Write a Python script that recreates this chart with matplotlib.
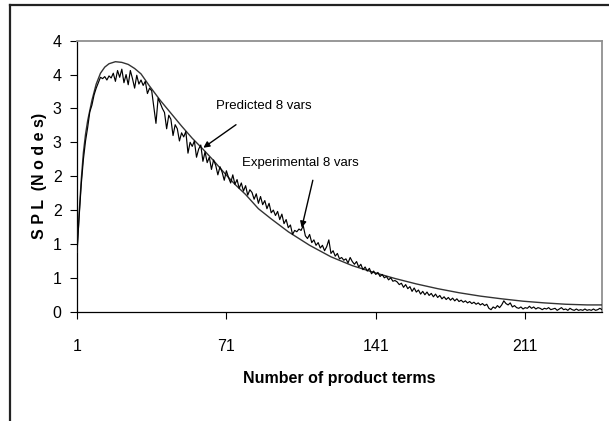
import numpy as np
import matplotlib
matplotlib.use("Agg")
import matplotlib.pyplot as plt
from matplotlib import font_manager
from matplotlib.lines import Line2D

# ---------------------------------------------------------------------------
# Data
# ---------------------------------------------------------------------------

pred_x = [1, 2, 3, 4, 5, 6, 8, 10, 12, 14, 16, 19, 22, 25, 28, 31, 35, 40, 45,
          50, 55, 60, 65, 70, 75, 80, 86, 92, 100, 110, 120, 130, 140, 150,
          160, 170, 180, 190, 200, 210, 220, 230, 240, 247]
pred_y = [0.88, 1.45, 1.95, 2.35, 2.62, 2.82, 3.12, 3.36, 3.52, 3.61, 3.66,
          3.69, 3.68, 3.65, 3.59, 3.51, 3.33, 3.12, 2.93, 2.74, 2.56, 2.40,
          2.23, 2.05, 1.88, 1.73, 1.52, 1.37, 1.18, 0.98, 0.81, 0.68, 0.58,
          0.49, 0.41, 0.34, 0.28, 0.23, 0.19, 0.155, 0.13, 0.11, 0.10, 0.10]

exp_y = [
    0.88, 1.40, 1.88, 2.25, 2.52, 2.72, 2.95, 3.05, 3.20, 3.30,
    3.38, 3.46, 3.44, 3.47, 3.42, 3.48, 3.45, 3.52, 3.40, 3.56,
    3.46, 3.58, 3.38, 3.50, 3.35, 3.56, 3.44, 3.30, 3.49, 3.36,
    3.42, 3.34, 3.40, 3.22, 3.30, 3.26, 3.02, 2.78, 3.15, 3.08,
    3.00, 2.94, 2.70, 2.90, 2.84, 2.60, 2.76, 2.70, 2.52, 2.64,
    2.58, 2.66, 2.34, 2.50, 2.44, 2.52, 2.28, 2.40, 2.46, 2.22,
    2.36, 2.20, 2.28, 2.10, 2.24, 2.16, 2.02, 2.14, 2.06, 1.94,
    2.08, 1.98, 1.90, 2.02, 1.88, 1.95, 1.82, 1.90, 1.78, 1.86,
    1.72, 1.80, 1.76, 1.66, 1.74, 1.60, 1.70, 1.58, 1.64, 1.52,
    1.60, 1.46, 1.50, 1.42, 1.48, 1.36, 1.44, 1.30, 1.36, 1.24,
    1.28, 1.14, 1.20, 1.18, 1.22, 1.20, 1.27, 1.12, 1.08, 1.14,
    1.02, 1.06, 0.98, 1.02, 0.94, 0.98, 0.90, 0.96, 1.06, 0.86,
    0.90, 0.82, 0.86, 0.78, 0.80, 0.76, 0.78, 0.72, 0.80, 0.74,
    0.70, 0.74, 0.66, 0.70, 0.62, 0.66, 0.60, 0.64, 0.56, 0.60,
    0.55, 0.58, 0.52, 0.55, 0.50, 0.52, 0.47, 0.50, 0.45, 0.46,
    0.44, 0.40, 0.42, 0.36, 0.40, 0.34, 0.37, 0.30, 0.35, 0.29,
    0.32, 0.26, 0.30, 0.25, 0.29, 0.24, 0.27, 0.22, 0.26, 0.21,
    0.24, 0.19, 0.22, 0.18, 0.21, 0.17, 0.20, 0.16, 0.19, 0.15,
    0.17, 0.14, 0.16, 0.13, 0.15, 0.12, 0.14, 0.11, 0.13, 0.10,
    0.12, 0.09, 0.11, 0.05, 0.03, 0.07, 0.05, 0.09, 0.06, 0.10,
    0.16, 0.12, 0.10, 0.13, 0.07, 0.09, 0.06, 0.05, 0.07, 0.04,
    0.06, 0.05, 0.08, 0.05, 0.07, 0.04, 0.06, 0.05, 0.03, 0.05,
    0.04, 0.06, 0.03, 0.04, 0.05, 0.02, 0.04, 0.06, 0.03, 0.04,
    0.02, 0.05, 0.03, 0.02, 0.04, 0.02, 0.03, 0.02, 0.04, 0.02,
    0.03, 0.02, 0.04, 0.02, 0.03, 0.05, 0.03,
]
exp_x = np.arange(1, len(exp_y) + 1)

x_ticks = [1, 71, 141, 211]
y_ticks = [0, 0.5, 1.0, 1.5, 2.0, 2.5, 3.0, 3.5, 4.0]
y_tick_labels = ["0", "1", "1", "2", "2", "3", "3", "4", "4"]   # Excel "0" format

# ---------------------------------------------------------------------------
# Fonts: Arial Narrow look-alike if present
# ---------------------------------------------------------------------------

_names = {f.name for f in font_manager.fontManager.ttflist}
NARROW = "Liberation Sans Narrow" if "Liberation Sans Narrow" in _names else "Liberation Sans"
plt.rcParams["font.family"] = [NARROW, "DejaVu Sans"]

# ---------------------------------------------------------------------------
# Figure
# ---------------------------------------------------------------------------

W, H = 609, 421
fig = plt.figure(figsize=(W / 100, H / 100), dpi=100)
ax = fig.add_axes([77 / W, 1 - 311.7 / H, (602 - 77) / W, (311.7 - 40.7) / H])

ax.plot(pred_x, pred_y, color="#333333", lw=1.0, zorder=3)
ax.plot(exp_x, exp_y, color="black", lw=0.85, zorder=4)

ax.set_xlim(1, 247)
ax.set_ylim(0, 4)
ax.set_xticks(x_ticks)
ax.set_yticks(y_ticks)
ax.set_yticklabels(y_tick_labels)
ax.tick_params(axis="y", direction="out", length=5, width=0.8, pad=6, labelsize=11.5)
ax.tick_params(axis="x", direction="out", length=5, width=0.8, pad=15, labelsize=11.5)

for side in ("left", "bottom"):
    ax.spines[side].set_color("black")
    ax.spines[side].set_linewidth(0.9)
for side in ("top", "right"):
    ax.spines[side].set_color("#909090")
    ax.spines[side].set_linewidth(1.3)

ax.set_xlabel("Number of product terms", fontsize=11.5, fontweight="bold", labelpad=12)
ax.set_ylabel("S P L  (N o d e s)", fontsize=11.5, fontweight="bold", labelpad=4,
              family="Liberation Sans")

# annotations
arrow = dict(arrowstyle="-|>", color="black", lw=1.0, mutation_scale=9,
             shrinkA=0, shrinkB=0)
ax.annotate("", xy=(60.2, 2.42), xytext=(75.5, 2.76), arrowprops=arrow)
ax.text(88.4, 3.04, "Predicted 8 vars", fontsize=9.5, ha="center", va="center")
ax.annotate("", xy=(106.3, 1.24), xytext=(111.5, 1.94), arrowprops=arrow)
ax.text(105.5, 2.19, "Experimental 8 vars", fontsize=9.5, ha="center", va="center")

# outer chart frame (only top and left visible in the crop)
fig.add_artist(Line2D([10 / W, 10 / W], [0, 1 - 4.7 / H], transform=fig.transFigure,
                      color="#222222", lw=1.6))
fig.add_artist(Line2D([10 / W, 608 / W], [1 - 4.7 / H, 1 - 4.7 / H],
                      transform=fig.transFigure, color="#222222", lw=1.6))

fig.savefig("out.png", dpi=100)
